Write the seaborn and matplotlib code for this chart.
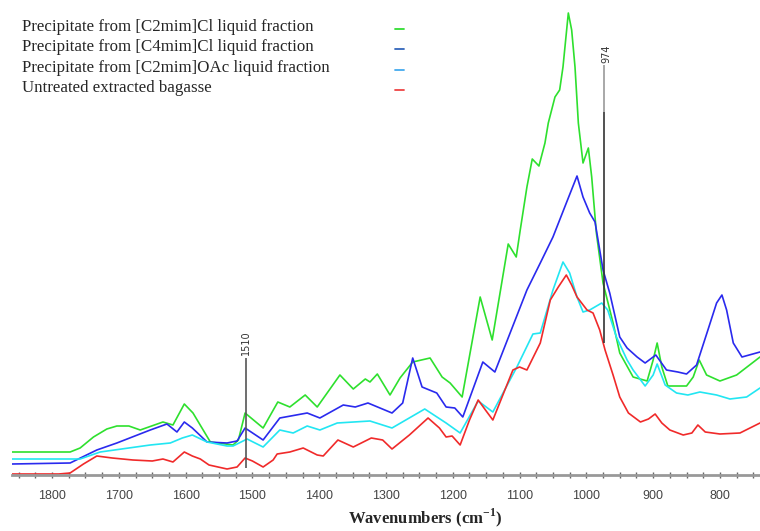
import numpy as np
import pandas as pd
import matplotlib
matplotlib.use('Agg')
import matplotlib.pyplot as plt
from matplotlib.lines import Line2D
from matplotlib.ticker import MultipleLocator
import seaborn as sns

# FTIR spectra, absorbance in arbitrary units
wn_red = [1860, 1790, 1773, 1753, 1733, 1710, 1679, 1650, 1634, 1619, 1602, 1590, 1578, 1565,
          1538, 1523, 1511, 1500, 1484, 1469, 1463, 1444, 1424, 1403, 1394, 1372, 1349, 1322,
          1305, 1291, 1265, 1237, 1220, 1210, 1201, 1189, 1175, 1162, 1150, 1140, 1125, 1110,
          1100, 1089, 1069, 1054, 1042, 1030, 1022, 1014, 999, 990, 980, 972, 960, 950, 937,
          919, 907, 897, 887, 875, 855, 842, 833, 822, 800, 770, 740]
abs_red = [0.01, 0.01, 0.02, 0.11, 0.19, 0.17, 0.15, 0.14, 0.16, 0.13, 0.23, 0.19, 0.16, 0.10,
           0.06, 0.08, 0.17, 0.14, 0.08, 0.15, 0.21, 0.23, 0.27, 0.20, 0.19, 0.35, 0.28, 0.37,
           0.35, 0.26, 0.40, 0.57, 0.47, 0.38, 0.39, 0.30, 0.55, 0.75, 0.64, 0.55, 0.80, 1.05,
           1.08, 1.05, 1.32, 1.75, 1.88, 2.00, 1.90, 1.78, 1.65, 1.62, 1.45, 1.25, 1.00, 0.78, 0.62,
           0.53, 0.56, 0.61, 0.52, 0.45, 0.40, 0.42, 0.50, 0.43, 0.41, 0.42, 0.52]

wn_cyan = [1860, 1758, 1728, 1653, 1623, 1605, 1590, 1568, 1538, 1529, 1508, 1484, 1459, 1439,
           1418, 1399, 1373, 1324, 1291, 1242, 1210, 1189, 1162, 1140, 1104, 1080, 1069, 1050,
           1035, 1025, 1014, 1005, 995, 977, 968, 955, 939, 930, 912, 900, 894, 882, 865, 848,
           830, 805, 785, 760, 740]
abs_cyan = [0.16, 0.16, 0.23, 0.30, 0.32, 0.37, 0.40, 0.33, 0.29, 0.29, 0.36, 0.28, 0.45, 0.42,
            0.49, 0.45, 0.52, 0.54, 0.47, 0.66, 0.52, 0.42, 0.74, 0.63, 1.08, 1.41, 1.42, 1.85,
            2.13, 2.02, 1.78, 1.63, 1.65, 1.72, 1.65, 1.38, 1.15, 1.05, 0.89, 1.00, 1.11, 0.90,
            0.82, 0.80, 0.83, 0.80, 0.76, 0.78, 0.87]

wn_blue = [1860, 1773, 1733, 1703, 1653, 1628, 1613, 1602, 1590, 1568, 1538, 1523, 1511, 1484,
           1459, 1418, 1399, 1364, 1346, 1327, 1291, 1275, 1260, 1246, 1224, 1210, 1197, 1185,
           1155, 1137, 1089, 1069, 1050, 1030, 1014, 1005, 995, 987, 975, 965, 950, 939, 924,
           912, 896, 880, 863, 850, 835, 818, 805, 797, 790, 780, 767, 740]
abs_blue = [0.11, 0.12, 0.25, 0.32, 0.45, 0.51, 0.43, 0.53, 0.47, 0.33, 0.32, 0.34, 0.47, 0.35,
            0.57, 0.62, 0.57, 0.70, 0.68, 0.72, 0.62, 0.72, 1.17, 0.88, 0.82, 0.68, 0.67, 0.58,
            1.13, 1.03, 1.85, 2.12, 2.38, 2.72, 2.99, 2.78, 2.62, 2.53, 2.05, 1.82, 1.38, 1.27,
            1.18, 1.12, 1.20, 1.05, 1.03, 1.01, 1.10, 1.45, 1.72, 1.80, 1.65, 1.32, 1.18, 1.23]

wn_green = [1860, 1773, 1758, 1738, 1718, 1703, 1685, 1668, 1634, 1619, 1602, 1589, 1563, 1529,
            1521, 1511, 1484, 1462, 1444, 1421, 1403, 1369, 1349, 1331, 1324, 1313, 1294, 1279,
            1260, 1234, 1216, 1204, 1186, 1159, 1141, 1117, 1105, 1099, 1089, 1081, 1071, 1062,
            1057, 1047, 1040, 1035, 1027, 1022, 1017, 1012, 1005, 997, 992, 985, 975, 960, 950,
            930, 909, 900, 894, 887, 878, 850, 840, 831, 820, 800, 775, 740]
abs_green = [0.23, 0.23, 0.27, 0.38, 0.46, 0.49, 0.49, 0.45, 0.53, 0.50, 0.71, 0.62, 0.33, 0.30,
             0.35, 0.62, 0.47, 0.73, 0.68, 0.80, 0.68, 1.00, 0.86, 0.96, 0.93, 1.01, 0.80, 0.97,
             1.13, 1.17, 0.98, 0.92, 0.78, 1.78, 1.35, 2.31, 2.18, 2.45, 2.88, 3.16, 3.09, 3.32,
             3.52, 3.78, 3.85, 4.08, 4.62, 4.45, 4.08, 3.52, 3.12, 3.27, 2.98, 2.42, 1.92, 1.52,
             1.22, 0.98, 0.94, 1.15, 1.32, 1.08, 0.89, 0.89, 0.98, 1.15, 1.00, 0.94, 1.00, 1.18]

labels = ['Precipitate from [C2mim]Cl liquid fraction',
          'Precipitate from [C4mim]Cl liquid fraction',
          'Precipitate from [C2mim]OAc liquid fraction',
          'Untreated extracted bagasse']
colors = ['#2ee02e', '#2a2aee', '#22e6f2', '#f02a2a']
legend_colors = ['#33dd33', '#3366bb', '#44aaee', '#ee4444']

peak_wn = [1510, 974]
peak_labels = ['1510', '974']

df = pd.concat([
    pd.DataFrame({'wn': wn_green, 'A': abs_green, 'sample': labels[0]}),
    pd.DataFrame({'wn': wn_blue, 'A': abs_blue, 'sample': labels[1]}),
    pd.DataFrame({'wn': wn_cyan, 'A': abs_cyan, 'sample': labels[2]}),
    pd.DataFrame({'wn': wn_red, 'A': abs_red, 'sample': labels[3]}),
])

sns.set_style('white')
plt.rcParams['font.family'] = ['Liberation Serif', 'DejaVu Serif']
plt.rcParams['mathtext.fontset'] = 'custom'
plt.rcParams['mathtext.rm'] = 'Liberation Serif'
plt.rcParams['mathtext.bf'] = 'Liberation Serif:bold'
plt.rcParams['lines.solid_joinstyle'] = 'round'

fig = plt.figure(figsize=(7.6, 5.31), dpi=100)
ax = fig.add_axes([12 / 760, 56 / 531, 748 / 760, 475 / 531])

sns.lineplot(data=df, x='wn', y='A', hue='sample', palette=dict(zip(labels, colors)),
             linewidth=1.2, legend=False, ax=ax, estimator=None)

ax.set_xlim(1860, 740)
ax.set_ylim(0, 4.75)

# peak markers
ax.vlines(peak_wn[0], 0.07, 1.17, color='#555555', lw=1.2)
ax.vlines(peak_wn[1], 1.32, 3.63, color='#333333', lw=1.2)
ax.vlines(peak_wn[1], 3.63, 4.10, color='#999999', lw=1.2)
ax.text(peak_wn[0], 1.20, peak_labels[0], rotation=90, ha='center', va='bottom',
        fontsize=7, family='DejaVu Sans', color='#333333')
ax.text(peak_wn[1] - 4, 4.12, peak_labels[1], rotation=90, ha='center', va='bottom',
        fontsize=7, family='DejaVu Sans', color='#333333')

# axis styling
for s in ['left', 'top', 'right']:
    ax.spines[s].set_visible(False)
ax.spines['bottom'].set_color('#999999')
ax.spines['bottom'].set_linewidth(2)
ax.set_yticks([])
ax.set_ylabel('')
ax.xaxis.set_major_locator(MultipleLocator(100))
ax.xaxis.set_minor_locator(MultipleLocator(25))
ax.tick_params(axis='x', which='both', direction='inout', bottom=True, color='#666666',
               length=5, width=1, pad=8, labelsize=9, labelcolor='#444444')
for t in ax.get_xticklabels():
    t.set_family(['Liberation Sans Narrow', 'Liberation Sans'])
ax.set_xlabel(r'Wavenumbers (cm$^{\mathbf{-1}}$)', fontsize=12, fontweight='bold')
ax.xaxis.set_label_coords(0.553, -0.066)

# legend: text left, short line on the right
for i, (lab, c) in enumerate(zip(labels, legend_colors)):
    yp = 1 - (27 + i * 20.3) / 531
    fig.text(22 / 760, yp, lab, fontsize=12.2, va='center', ha='left')
    fig.add_artist(Line2D([395 / 760, 404 / 760], [yp - 2 / 531, yp - 2 / 531], color=c, lw=1.3))

fig.savefig('out.png', dpi=100)
